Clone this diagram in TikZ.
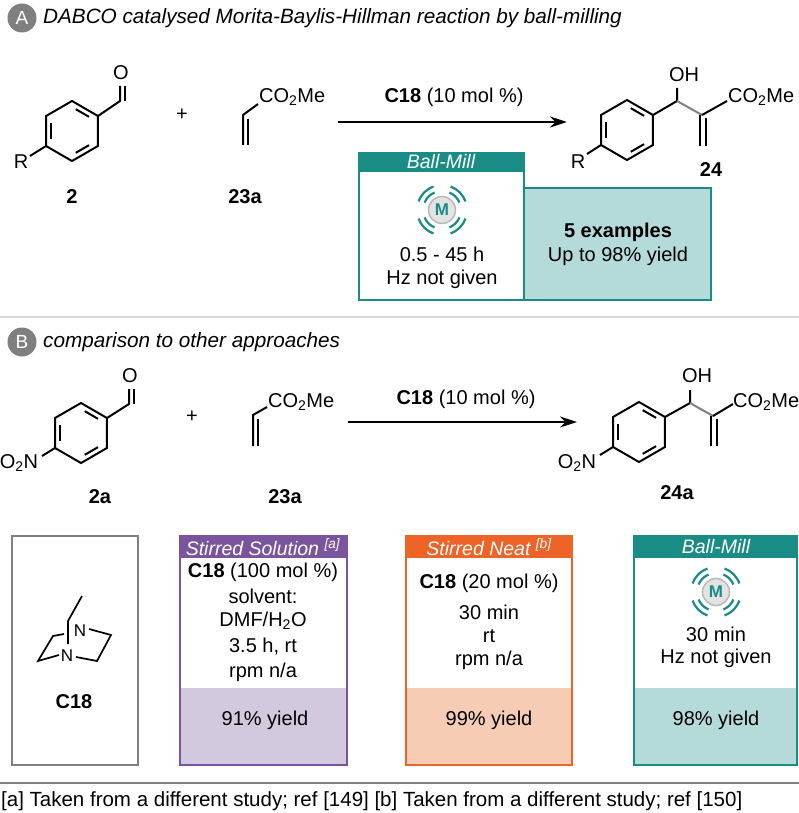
\documentclass[tikz,border=0pt]{standalone}
\usepackage{fontspec}
\setmainfont{Liberation Sans}
\usetikzlibrary{calc,arrows.meta}
\definecolor{teal1}{HTML}{1A8C86}
\definecolor{teal2}{HTML}{B5DADA}
\definecolor{purp1}{HTML}{7A559E}
\definecolor{purp2}{HTML}{D3C9DE}
\definecolor{oran1}{HTML}{EE6327}
\definecolor{oran2}{HTML}{F7CCB4}
\definecolor{gcirc}{HTML}{7F7F7F}
\begin{document}
\begin{tikzpicture}[x=1pt,y=-1pt,
  bond/.style={line width=2pt,line join=miter},
  gbond/.style={line width=2pt,draw=gray},
  txt/.style={inner sep=0pt,font=\fontsize{20}{24}\selectfont},
  lab/.style={inner sep=0pt,font=\fontsize{20}{24}\selectfont\bfseries},
  sec/.style={circle,fill=gcirc,text=white,minimum size=29pt,inner sep=0pt,font=\fontsize{19}{22}\selectfont},
  hdr/.style={inner sep=0pt,text=white,font=\fontsize{19.5}{22}\selectfont\itshape},
  benz/.pic={
    \draw[bond] (-90:30)--(-30:30)--(30:30)--(90:30)--(150:30)--(210:30)--cycle;
    \draw[bond] ($(-90:24)!0.18!(-30:24)$)--($(-90:24)!0.82!(-30:24)$);
    \draw[bond] ($(30:24)!0.18!(90:24)$)--($(30:24)!0.82!(90:24)$);
    \draw[bond] ($(150:24)!0.18!(210:24)$)--($(150:24)!0.82!(210:24)$);
  },
  mill/.pic={
    \node[circle,draw=gray!55,line width=1.5pt,fill=gray!22,minimum size=27pt,inner sep=0pt,text=teal1,font=\fontsize{17}{20}\selectfont\bfseries] {M};
    \foreach \a in {45,135,225,315}{
      \draw[teal1,line width=2.2pt] (\a-22:19) arc (\a-22:\a+22:19);
      \draw[teal1,line width=2.2pt] (\a-25:25) arc (\a-25:\a+25:25);
    }
  }]
\useasboundingbox (0,0) rectangle (799,813);
% ---------- Section A ----------
\node[sec] (secA) at (22,18) {A};
\node[txt,anchor=west,font=\fontsize{20.7}{24}\selectfont\itshape] (titA) at (43,18) {DABCO catalysed Morita-Baylis-Hillman reaction by ball-milling};
% compound 2
\pic at (72,131) {benz};
\draw[bond] (98,116)--(120,101)--(120,86);
\draw[bond] (125,101)--(125,86);
\node[txt] (O1) at (121,73) {O};
\draw[bond] (46,146)--(30,156);
\node[txt] (R1) at (21,162) {R};
\node[lab] (c2) at (72,197) {2};
\node[txt] (plus1) at (182,115) {+};
% 23a
\draw[bond] (243,145)--(243,115)--(258,104);
\draw[bond] (248,145)--(248,119);
\node[txt,anchor=west] (e1) at (259,97) {CO\textsubscript{2}Me};
\node[lab] (c23a) at (245,197) {23a};
% arrow
\coordinate (a1s) at (338,122);
\coordinate (a1e) at (567,122);
\draw[line width=2pt,-{Stealth[length=17pt,width=11pt]}] (a1s)--(a1e);
\node[txt] (cat1) at (454,97) {\textbf{C18} (10 mol \%)};
% product 24
\pic at (627,130) {benz};
\draw[bond] (653,115)--(677,101)--(677,88);
\node[txt] (OH1) at (684,75) {OH};
\draw[gbond] (677,101)--(702,115);
\draw[bond] (702,115)--(727,101);
\draw[bond] (700,115)--(700,146);
\draw[bond] (706,118)--(706,146);
\node[txt,anchor=west] (e2) at (728,97) {CO\textsubscript{2}Me};
\draw[bond] (601,145)--(587,154);
\node[txt] (R2) at (578,162) {R};
\node[lab] (c24) at (711,170) {24};
% Ball-mill box A
\draw[teal1,line width=2pt,fill=teal2] (524,188) rectangle (711,300);
\draw[teal1,line width=2pt,fill=white] (359,153) rectangle (524,300);
\fill[teal1] (359,153) rectangle (524,172);
\node[hdr] (hA) at (441,162) {Ball-Mill};
\pic at (442,210) {mill};
\node[txt] (tA1) at (442,254) {0.5 - 45 h};
\node[txt] (tA2) at (442,279) {Hz not given};
\node[lab] (ex) at (618,232) {5 examples};
\node[txt] (yA) at (618,256) {Up to 98\% yield};
% separator
\draw[gray!30,line width=2pt] (0,317)--(799,317);
% ---------- Section B ----------
\node[sec] (secB) at (22,342) {B};
\node[txt,anchor=west,font=\fontsize{20.7}{24}\selectfont\itshape] (titB) at (43,342) {comparison to other approaches};
\pic at (81,433) {benz};
\draw[bond] (107,418)--(129,404)--(129,389);
\draw[bond] (134,404)--(134,389);
\node[txt] (O2) at (130,376) {O};
\draw[bond] (55,448)--(42,456);
\node[txt] (N1) at (19,463) {O\textsubscript{2}N};
\node[lab] (c2a) at (100,497) {2a};
\node[txt] (plus2) at (192,417) {+};
\draw[bond] (253,446)--(253,415)--(267,407);
\draw[bond] (258,446)--(258,419);
\node[txt,anchor=west] (e3) at (268,402) {CO\textsubscript{2}Me};
\node[lab] (c23b) at (285,497) {23a};
\coordinate (a2s) at (348,422);
\coordinate (a2e) at (577,422);
\draw[line width=2pt,-{Stealth[length=17pt,width=11pt]}] (a2s)--(a2e);
\node[txt] (cat2) at (466,399) {\textbf{C18} (10 mol \%)};
\pic at (639,432) {benz};
\draw[bond] (665,417)--(690,403)--(690,390);
\node[txt] (OH2) at (697,376) {OH};
\draw[gbond] (690,403)--(713,416);
\draw[bond] (713,416)--(733,404);
\draw[bond] (711,416)--(711,446);
\draw[bond] (717,419)--(717,446);
\node[txt,anchor=west] (e4) at (733,402) {CO\textsubscript{2}Me};
\draw[bond] (613,447)--(600,455);
\node[txt] (N2) at (577,463) {O\textsubscript{2}N};
\node[lab] (c24a) at (677,493) {24a};
% C18 box
\draw[gray,line width=2pt] (12,536) rectangle (138,765);
\draw[bond,line width=1.7pt] (82,596)--(68,621)--(68,644);
\node[txt,font=\fontsize{17}{20}\selectfont] (Nu) at (80,631) {N};
\node[txt,font=\fontsize{17}{20}\selectfont] (Nl) at (67,656) {N};
\draw[bond,line width=1.7pt] (89,629)--(111,635)--(97,661)--(76,657);
\draw[bond,line width=1.7pt] (59,655)--(38,661)--(53,636)--(64,634);
\node[lab] (c18) at (74,702) {C18};
% Stirred solution
\fill[purp2] (180,688) rectangle (347,765);
\fill[purp1] (180,536) rectangle (347,558);
\draw[purp1,line width=2pt] (180,536) rectangle (347,765);
\node[hdr] (hS) at (263,547) {Stirred Solution \textsuperscript{[a]}};
\node[txt] (s1) at (263,572) {\textbf{C18} (100 mol \%)};
\node[txt] (s2) at (263,596) {solvent:};
\node[txt] (s3) at (263,621) {DMF/H\textsubscript{2}O};
\node[txt] (s4) at (263,647) {3.5 h, rt};
\node[txt] (s5) at (263,672) {rpm n/a};
\node[txt] (s6) at (265,720) {91\% yield};
% Stirred neat
\fill[oran2] (406,688) rectangle (572,765);
\fill[oran1] (406,536) rectangle (572,558);
\draw[oran1,line width=2pt] (406,536) rectangle (572,765);
\node[hdr] (hN) at (489,547) {Stirred Neat \textsuperscript{[b]}};
\node[txt] (n1) at (489,583) {\textbf{C18} (20 mol \%)};
\node[txt] (n2) at (489,612) {30 min};
\node[txt] (n3) at (489,636) {rt};
\node[txt] (n4) at (489,660) {rpm n/a};
\node[txt] (n5) at (489,720) {99\% yield};
% Ball-mill B
\fill[teal2] (634,688) rectangle (797,765);
\fill[teal1] (634,536) rectangle (797,558);
\draw[teal1,line width=2pt] (634,536) rectangle (797,765);
\node[hdr] (hM) at (716,547) {Ball-Mill};
\pic at (716,592) {mill};
\node[txt] (m1) at (716,634) {30 min};
\node[txt] (m2) at (716,658) {Hz not given};
\node[txt] (m3) at (716,720) {98\% yield};
% footnote
\draw[gray,line width=1.5pt] (0,783)--(799,783);
\node[txt,anchor=west,font=\fontsize{20.5}{24}\selectfont] (fn) at (1,801) {[a] Taken from a different study; ref [149] [b] Taken from a different study; ref [150]};
\end{tikzpicture}
\end{document}
